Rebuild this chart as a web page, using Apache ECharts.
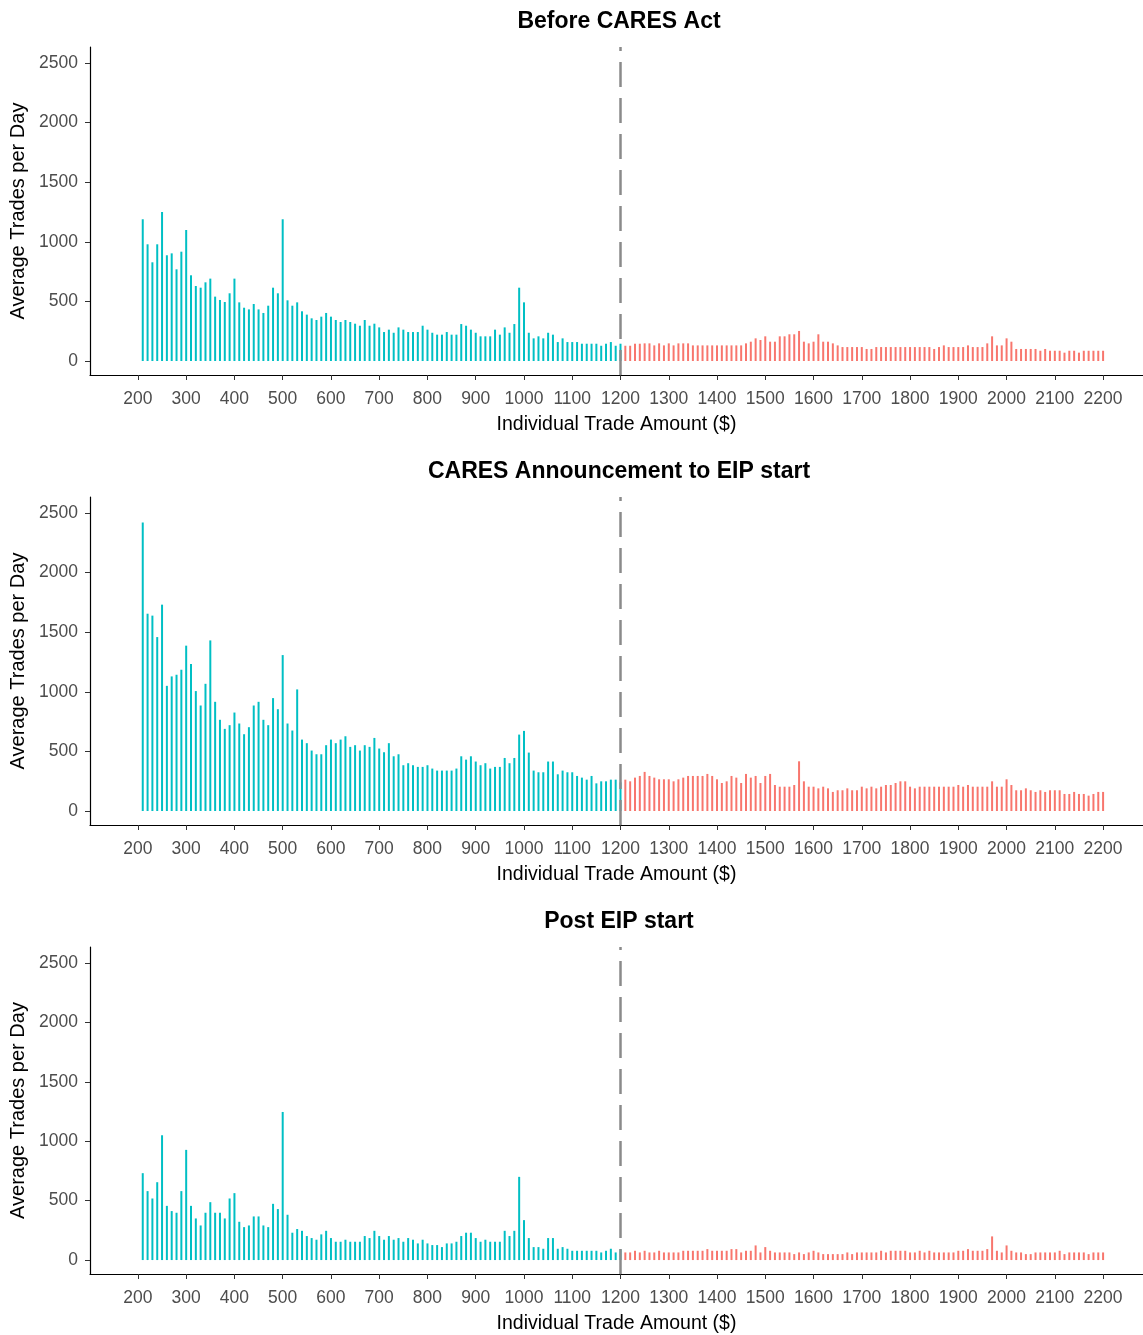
<!DOCTYPE html>
<html>
<head>
<meta charset="utf-8">
<script src="https://cdn.jsdelivr.net/npm/echarts@6/dist/echarts.min.js"></script>
<style>
  html, body { margin: 0; padding: 0; background: #ffffff; }
  #chart { width: 1143px; height: 1335px; }
</style>
</head>
<body>
<div id="chart"></div>
<script>
// Panel titles, axis titles and tick labels
const panelTitles = ['Before CARES Act', 'CARES Announcement to EIP start', 'Post EIP start'];
const xAxisTitle = 'Individual Trade Amount ($)';
const yAxisTitle = 'Average Trades per Day';
const xTicks = [200, 300, 400, 500, 600, 700, 800, 900, 1000, 1100, 1200, 1300, 1400, 1500, 1600, 1700, 1800, 1900, 2000, 2100, 2200];
const yTicks = [0, 500, 1000, 1500, 2000, 2500];
const cutoff = 1200;

// Trade amount bins ($10 wide, 210 .. 2200)
const amounts = [];
for (let a = 210; a <= 2200; a += 10) amounts.push(a);

// Before CARES Act: bins 210..1200 and 1210..2200
const beforeLow = [1189, 979, 828, 979, 1250, 887, 903, 769, 917, 1099,
  719, 629, 615, 660, 691, 540, 512, 495, 568, 691,
  492, 447, 433, 478, 433, 403, 464, 615, 568, 1189,
  509, 464, 492, 417, 389, 358, 344, 372, 403, 372,
  344, 327, 344, 327, 313, 296, 344, 296, 313, 282,
  243, 263, 237, 282, 263, 243, 243, 243, 296, 263,
  237, 221, 221, 243, 221, 221, 310, 296, 263, 237,
  207, 207, 207, 263, 221, 282, 237, 310, 615, 492,
  237, 190, 207, 190, 237, 221, 159, 190, 159, 159,
  159, 145, 145, 145, 145, 128, 145, 159, 128, 145];
const beforeHigh = [128, 128, 145, 145, 148, 148, 131, 148, 131, 148,
  131, 148, 148, 148, 131, 131, 131, 131, 131, 131,
  131, 131, 131, 131, 131, 148, 162, 190, 176, 207,
  162, 162, 207, 207, 224, 224, 252, 162, 148, 162,
  224, 162, 162, 148, 131, 117, 117, 117, 117, 117,
  101, 101, 117, 117, 117, 117, 117, 117, 117, 117,
  117, 117, 117, 117, 101, 117, 131, 117, 117, 117,
  117, 131, 117, 117, 117, 148, 207, 131, 131, 190,
  162, 101, 101, 101, 101, 101, 86, 101, 86, 86,
  86, 70, 86, 86, 70, 86, 86, 86, 86, 86];

// CARES announcement to EIP start
const announceLow = [2420, 1655, 1639, 1459, 1731, 1050, 1129, 1143, 1185, 1387,
  1233, 1006, 885, 1067, 1431, 916, 765, 689, 720, 826,
  734, 644, 703, 885, 916, 765, 720, 947, 854, 1308,
  734, 675, 1020, 599, 569, 507, 476, 476, 552, 599,
  569, 599, 627, 538, 552, 507, 552, 538, 613, 524,
  493, 569, 459, 476, 384, 401, 384, 370, 370, 384,
  356, 339, 339, 339, 339, 356, 459, 431, 459, 415,
  384, 401, 356, 370, 370, 445, 401, 445, 641, 672,
  490, 339, 325, 325, 415, 415, 308, 339, 325, 325,
  294, 280, 263, 294, 232, 249, 249, 263, 263, 240];
const announceHigh = [263, 249, 280, 294, 328, 294, 280, 266, 266, 266,
  249, 266, 280, 294, 294, 294, 294, 311, 294, 266,
  235, 249, 294, 280, 235, 311, 280, 294, 235, 294,
  311, 218, 204, 204, 204, 218, 417, 249, 204, 204,
  190, 204, 190, 160, 174, 174, 190, 174, 174, 204,
  190, 204, 190, 204, 218, 218, 235, 249, 249, 204,
  190, 204, 204, 204, 204, 204, 204, 204, 204, 218,
  204, 218, 204, 204, 204, 204, 249, 204, 204, 266,
  218, 174, 174, 190, 174, 160, 174, 160, 174, 174,
  174, 143, 143, 160, 143, 143, 129, 143, 160, 160];

// Post EIP start
const postLow = [731, 580, 518, 655, 1050, 456, 412, 398, 580, 927,
  456, 350, 291, 398, 487, 398, 398, 350, 518, 563,
  322, 277, 291, 367, 367, 291, 277, 473, 429, 1246,
  381, 230, 261, 246, 202, 185, 171, 216, 246, 185,
  154, 154, 171, 154, 154, 154, 202, 185, 246, 202,
  171, 202, 171, 185, 154, 185, 171, 140, 171, 140,
  126, 126, 109, 140, 140, 154, 202, 230, 230, 185,
  154, 171, 154, 154, 154, 246, 202, 246, 700, 336,
  185, 109, 109, 95, 185, 185, 95, 109, 95, 78,
  78, 78, 78, 78, 78, 64, 78, 95, 64, 90];
const postHigh = [64, 64, 78, 64, 78, 64, 64, 78, 64, 64,
  64, 64, 78, 78, 78, 78, 78, 92, 78, 78,
  78, 78, 92, 92, 64, 78, 78, 123, 64, 109,
  78, 64, 64, 64, 64, 50, 64, 50, 64, 78,
  64, 50, 50, 50, 50, 50, 64, 50, 64, 64,
  64, 64, 64, 78, 64, 78, 78, 78, 78, 64,
  64, 78, 64, 78, 64, 64, 64, 64, 64, 78,
  78, 92, 78, 78, 78, 92, 199, 78, 64, 123,
  78, 64, 64, 50, 50, 64, 64, 64, 64, 64,
  78, 50, 64, 64, 64, 64, 50, 64, 64, 64];

const panelValues = [
  beforeLow.concat(beforeHigh),
  announceLow.concat(announceHigh),
  postLow.concat(postHigh)
];

const FONT = '"Liberation Sans", Arial, sans-serif';
const TEAL = '#00BFC4';
const SALMON = '#F8766D';
const panelTop = [47, 497, 947];
const panelHeight = 328;
const plain = (v) => String(v);

const chart = echarts.init(document.getElementById('chart'), null, { renderer: 'canvas' });

const grid = [], xAxis = [], yAxis = [], series = [], graphic = [];
panelTop.forEach((top, i) => {
  grid.push({ left: 88, right: 0, top: top, height: panelHeight, containLabel: false });
  xAxis.push({
    type: 'value', gridIndex: i, min: 100.7, max: 2282.7,
    axisLine: { show: true, onZero: false, lineStyle: { color: '#000', width: 1.2 } },
    axisTick: { show: true, length: 5, customValues: xTicks, lineStyle: { color: '#333', width: 1 } },
    axisLabel: { customValues: xTicks, formatter: plain, color: '#4d4d4d', fontSize: 17.5, fontFamily: FONT, margin: 15 },
    splitLine: { show: false },
    name: xAxisTitle, nameLocation: 'middle', nameGap: 40,
    nameTextStyle: { color: '#000', fontSize: 19.5, fontFamily: FONT }
  });
  yAxis.push({
    type: 'value', gridIndex: i, min: -117.4, max: 2634,
    axisLine: { show: true, onZero: false, lineStyle: { color: '#000', width: 1.2 } },
    axisTick: { show: true, length: 5, customValues: yTicks, lineStyle: { color: '#333', width: 1 } },
    axisLabel: { customValues: yTicks, formatter: plain, color: '#4d4d4d', fontSize: 17.5, fontFamily: FONT, margin: 12 },
    splitLine: { show: false },
    name: yAxisTitle, nameLocation: 'middle', nameGap: 62, nameRotate: 90,
    nameTextStyle: { color: '#000', fontSize: 20, fontFamily: FONT }
  });
  series.push({
    type: 'bar', xAxisIndex: i, yAxisIndex: i, barWidth: 2,
    data: amounts.map((a, k) => [a, panelValues[i][k]]),
    itemStyle: { color: (p) => (p.value[0] <= cutoff ? TEAL : SALMON) },
    markLine: {
      silent: true, symbol: ['none', 'none'], label: { show: false },
      lineStyle: { color: '#8a8a8a', width: 2.5, type: [25, 11] },
      data: [{ xAxis: cutoff }]
    }
  });
  graphic.push({
    type: 'text', x: 619, y: 22 + 450 * i,
    style: {
      text: panelTitles[i], fill: '#000', font: 'bold 23px ' + FONT,
      textAlign: 'center', textVerticalAlign: 'middle', align: 'center', verticalAlign: 'middle'
    }
  });
});

chart.setOption({
  animation: false,
  backgroundColor: '#ffffff',
  grid, xAxis, yAxis, series, graphic
});
</script>
</body>
</html>
